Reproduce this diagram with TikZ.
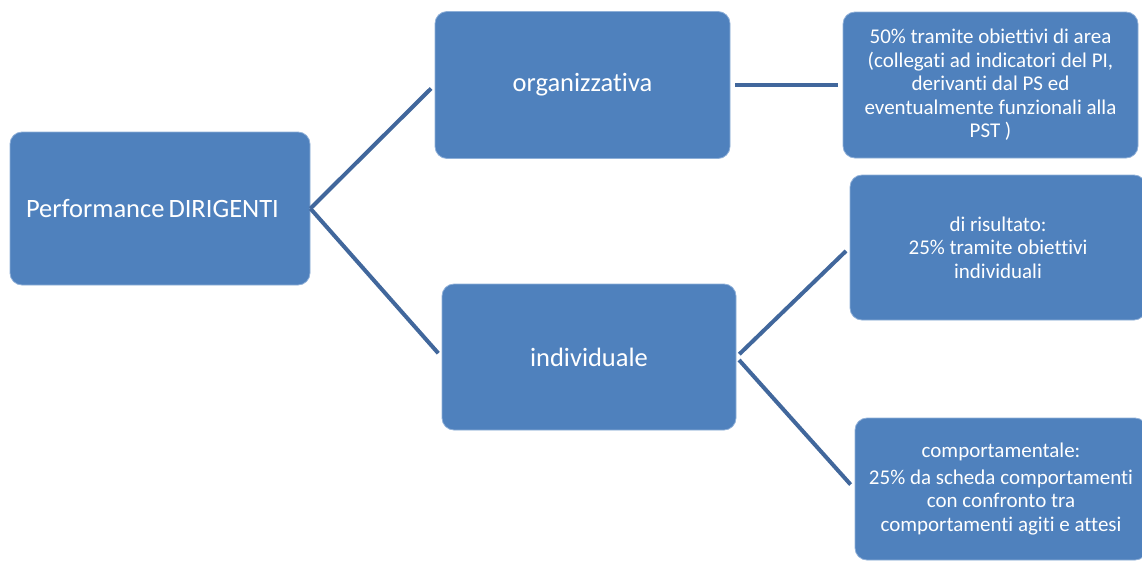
\documentclass[tikz,border=0pt]{standalone}
\usepackage{fontspec}
\setmainfont{Carlito}[Ligatures={NoCommon}]
\definecolor{boxfill}{HTML}{4F81BD}
\definecolor{boxedge}{HTML}{8FB0D8}
\definecolor{linkcol}{HTML}{41679C}
\begin{document}
\begin{tikzpicture}[x=1pt,y=-1pt,
  box/.style={draw=boxedge,line width=0.8pt,fill=boxfill,rounded corners=12pt,text=white,inner sep=0pt},
  bigtext/.style={font=\fontsize{26.5}{30}\selectfont},
  smalltext/.style={font=\fontsize{21}{23.5}\selectfont,align=center},
  link/.style={draw=linkcol,line width=4pt}]
\useasboundingbox (0,0) rectangle (1142,560);
\node[box,bigtext,minimum width=300pt,minimum height=153pt,text width=268pt,align=left,inner xsep=16pt] (perf) at (160,208.5) {Performance\hspace{4pt}DIRIGENTI};
\node[box,bigtext,minimum width=295pt,minimum height=147pt,align=center] (org) at (582.5,85) {organizzativa};
\node[box,bigtext,minimum width=294pt,minimum height=146pt,align=center] (ind) at (589,357) {individuale};
\node[box,smalltext,minimum width=295pt,minimum height=146pt] (area) at (990.5,85) {50\% tramite obiettivi di area\\(collegati ad indicatori del PI,\\derivanti dal PS ed\\eventualmente funzionali alla\\PST )};
\node[box,smalltext,minimum width=296pt,minimum height=145pt] (ris) at (998,247.5) {di risultato:\\25\% tramite obiettivi\\individuali};
\node[box,smalltext,minimum width=292pt,minimum height=142pt] (comp) at (1001,489) {comportamentale:\\[3pt]25\% da scheda comportamenti\\con confronto tra\\comportamenti agiti e attesi};
\draw[link,shorten >=5pt] (perf.east) -- (org.west);
\draw[link,shorten >=5pt] (perf.east) -- (ind.west);
\draw[link,shorten <=5pt,shorten >=5pt] (org.east) -- (area.west);
\draw[link,shorten <=4pt,shorten >=5pt] (ind.east) -- (ris.west);
\draw[link,shorten <=4pt,shorten >=6pt] (ind.east) -- (comp.west);
\end{tikzpicture}
\end{document}
